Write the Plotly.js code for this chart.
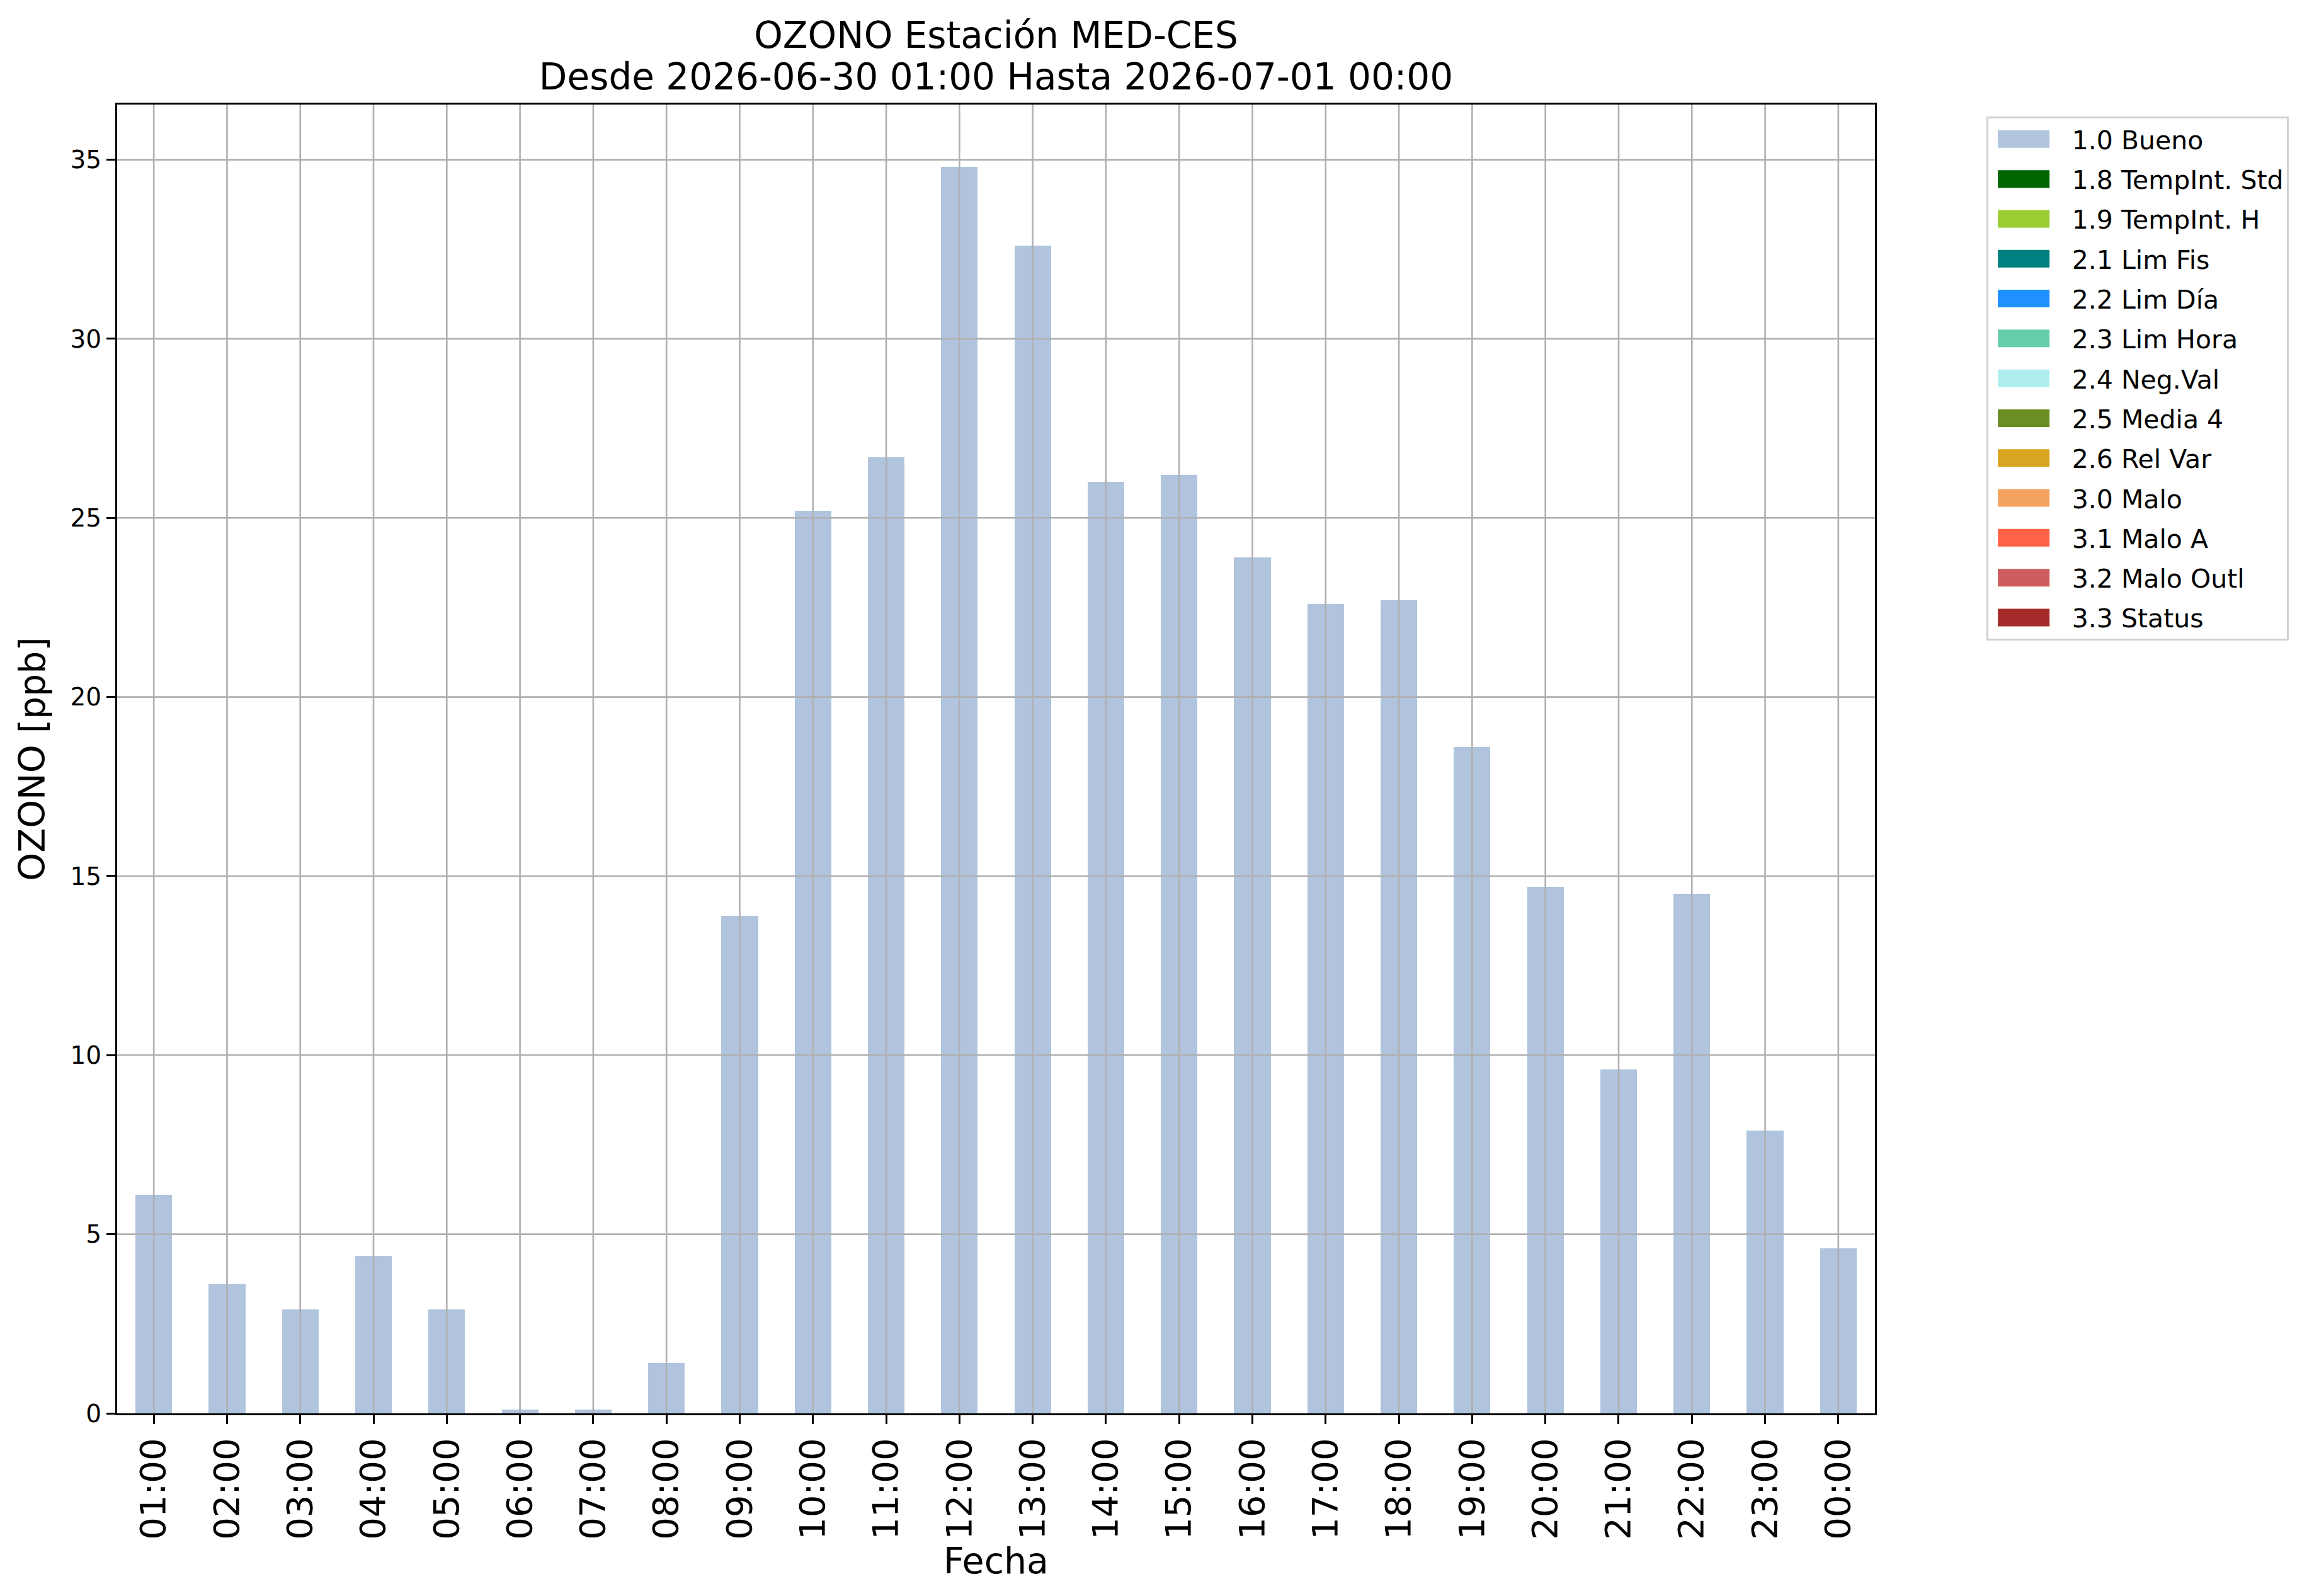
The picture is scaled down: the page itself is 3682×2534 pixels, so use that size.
<!DOCTYPE html>
<html>
<head>
<meta charset="utf-8">
<script src="https://cdn.plot.ly/plotly-3.0.1.min.js"></script>
<style>
  html, body { margin: 0; padding: 0; background: #ffffff; }
  #chart { width: 3682px; height: 2534px; }
</style>
</head>
<body>
<div id="chart"></div>
<script>
// ---- data ----
const hours = ["01:00","02:00","03:00","04:00","05:00","06:00","07:00","08:00","09:00","10:00","11:00","12:00",
               "13:00","14:00","15:00","16:00","17:00","18:00","19:00","20:00","21:00","22:00","23:00","00:00"];
const ozonoBueno = [6.1, 3.6, 2.9, 4.4, 2.9, 0.1, 0.1, 1.4, 13.9, 25.2, 26.7, 34.8,
                    32.6, 26.0, 26.2, 23.9, 22.6, 22.7, 18.6, 14.7, 9.6, 14.5, 7.9, 4.6];
// no hour carries any of the other flags (no visible bars for them)
const ozonoOtherFlags = [0, 0, 0, 0, 0, 0, 0, 0, 0, 0, 0, 0,
                         0, 0, 0, 0, 0, 0, 0, 0, 0, 0, 0, 0];
const flagNames = ["1.0 Bueno","1.8 TempInt. Std","1.9 TempInt. H","2.1 Lim Fis","2.2 Lim Día","2.3 Lim Hora",
                   "2.4 Neg.Val","2.5 Media 4","2.6 Rel Var","3.0 Malo","3.1 Malo A","3.2 Malo Outl","3.3 Status"];
const flagColors = ["#b0c4de","#006400","#9acd32","#008080","#1e90ff","#66cdaa",
                    "#afeeee","#6b8e23","#daa520","#f4a460","#ff6347","#cd5c5c","#a52a2a"];
const yTicks = [0, 5, 10, 15, 20, 25, 30, 35];
const titleLines = ["OZONO Estación MED-CES", "Desde 2026-06-30 01:00 Hasta 2026-07-01 00:00"];

// ---- traces ----
const traces = flagNames.map((name, i) => ({
  type: "bar",
  name: name,
  x: hours,
  y: i === 0 ? ozonoBueno : ozonoOtherFlags,
  width: 0.5,
  marker: { color: flagColors[i], line: { width: 0 } },
  legendgroup: "g" + i,
  showlegend: true,
  hoverinfo: "x+y"
}));

// grid lines drawn above bars (as in the reference)
const gridColor = "#b0b0b0";
const shapes = [];
hours.forEach(h => shapes.push({
  type: "line", xref: "x", yref: "paper", x0: h, x1: h, y0: 0, y1: 1,
  line: { color: gridColor, width: 2.6 }, layer: "above"
}));
yTicks.filter(v => v > 0).forEach(v => shapes.push({
  type: "line", xref: "paper", yref: "y", x0: 0, x1: 1, y0: v, y1: v,
  line: { color: gridColor, width: 2.6 }, layer: "above"
}));

const font = "DejaVu Sans, Noto Sans, sans-serif";

const layout = {
  width: 3682, height: 2534,
  paper_bgcolor: "#ffffff", plot_bgcolor: "#ffffff",
  margin: { l: 186, r: 705, t: 166, b: 290, pad: 0 },
  font: { family: font, color: "#000000", size: 39 },
  barmode: "stack",
  title: {
    text: titleLines.join("<br>"),
    font: { family: font, size: 58, color: "#000000" },
    x: 0.5, xref: "paper", xanchor: "center",
    y: 0.970, yref: "container", yanchor: "top"
  },
  xaxis: {
    type: "category",
    categoryorder: "array", categoryarray: hours,
    range: [-0.5, 23.5],
    tickangle: -90,
    tickfont: { family: font, size: 56, color: "#000" },
    ticks: "outside", ticklen: 14, tickwidth: 3, tickcolor: "#000",
    showgrid: false, zeroline: false,
    showline: true, mirror: true, linecolor: "#000", linewidth: 3,
    title: { text: "Fecha", font: { family: font, size: 57, color: "#000" }, standoff: 2 },
    automargin: true, fixedrange: true
  },
  yaxis: {
    range: [0, 36.54],
    tickvals: yTicks,
    ticktext: yTicks.map(String),
    tickfont: { family: font, size: 39, color: "#000" },
    ticks: "outside", ticklen: 14, tickwidth: 3, tickcolor: "#000",
    showgrid: false, zeroline: false,
    showline: true, mirror: true, linecolor: "#000", linewidth: 3,
    title: { text: "OZONO [ppb]", font: { family: font, size: 57, color: "#000" }, standoff: 22 },
    automargin: false, fixedrange: true
  },
  legend: {
    x: 1.0633, xanchor: "left", y: 0.991, yanchor: "top",
    bgcolor: "#ffffff", bordercolor: "#d0d0d0", borderwidth: 3,
    font: { family: font, size: 41, color: "#000" },
    traceorder: "grouped",
    tracegroupgap: 7,
    itemwidth: 123,
    itemclick: false, itemdoubleclick: false
  },
  shapes: shapes,
  showlegend: true
};

Plotly.newPlot("chart", traces, layout, { staticPlot: true, displayModeBar: false }).then(() => {
  // enlarge legend swatches to matplotlib-like rectangular patches
  document.querySelectorAll(".legend .legendpoints path").forEach(p => {
    p.setAttribute("d", "M-51,-14H31V14H-51Z");
  });
  // tighter line spacing for the two-line title (matplotlib-like)
  const tl = document.querySelectorAll(".gtitle tspan.line");
  if (tl.length > 1) {
    for (let i = 1; i < tl.length; i++) tl[i].setAttribute("dy", "1.14em");
  }
});
</script>
</body>
</html>
